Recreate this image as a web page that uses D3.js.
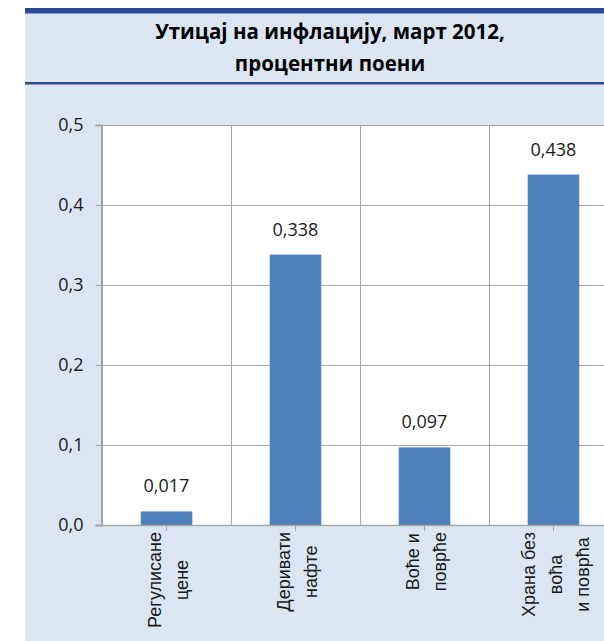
<!DOCTYPE html>
<html>
<head>
<meta charset="utf-8">
<script src="https://cdn.jsdelivr.net/npm/d3@7"></script>
<style>
  html, body { margin: 0; padding: 0; background: #fff; }
  svg { display: block; }
</style>
</head>
<body>
<div id="chart"></div>
<script>
// chart data
const titleLines = ['Утицај на инфлацију, март 2012,', 'процентни поени'];
const categories = ['Регулисане цене', 'Деривати нафте', 'Воће и поврће', 'Храна без воћа и поврћа'];
const categoryLines = [
  ['Регулисане', 'цене'],
  ['Деривати', 'нафте'],
  ['Воће и', 'поврће'],
  ['Храна без', 'воћа', 'и поврћа']
];
const values = [0.017, 0.338, 0.097, 0.438];
const yTicks = [0, 0.1, 0.2, 0.3, 0.4, 0.5];

const width = 604, height = 641;
const panelColor = '#dce6f2';
const navy = '#2c4a94';
const barColor = '#4f81bd';
const gridColor = '#a6a6a6';
const textColor = '#1a1a1a';

// comma as decimal mark
const locale = d3.formatLocale({ decimal: ',', thousands: '.', grouping: [3], currency: ['', ''] });
const fmtTick = locale.format('.1f');
const fmtValue = locale.format('.3f');

const svg = d3.select('#chart').append('svg')
  .attr('width', width)
  .attr('height', height);

// background panel
svg.append('rect')
  .attr('x', 25).attr('y', 8)
  .attr('width', width - 25).attr('height', height - 8)
  .attr('fill', panelColor);

svg.append('rect')
  .attr('x', 25).attr('y', 8)
  .attr('width', width - 25).attr('height', 5.5)
  .attr('fill', navy);

svg.append('rect')
  .attr('x', 25).attr('y', 82)
  .attr('width', width - 25).attr('height', 2.5)
  .attr('fill', navy);

// title
svg.append('g')
  .selectAll('text')
  .data(titleLines)
  .join('text')
  .attr('x', 330)
  .attr('y', (d, i) => 39 + i * 32)
  .attr('text-anchor', 'middle')
  .attr('font-family', 'Open Sans')
  .attr('font-weight', 'bold')
  .attr('font-size', 20.5)
  .attr('fill', '#000')
  .text(d => d);

// scales
const plot = { left: 102, right: 618, top: 125, bottom: 525 };

const xBand = d3.scaleBand()
  .domain(categories)
  .range([plot.left, plot.right]);

const xBar = d3.scaleBand()
  .domain(categories)
  .range([plot.left, plot.right])
  .paddingInner(0.6)
  .paddingOuter(0.3);

const y = d3.scaleLinear()
  .domain([0, 0.5])
  .range([plot.bottom, plot.top]);

// plot area
svg.append('rect')
  .attr('x', plot.left).attr('y', plot.top)
  .attr('width', plot.right - plot.left).attr('height', plot.bottom - plot.top)
  .attr('fill', '#fff');

// horizontal gridlines
svg.append('g')
  .selectAll('line')
  .data(yTicks.slice(1))
  .join('line')
  .attr('x1', plot.left).attr('x2', plot.right)
  .attr('y1', d => Math.round(y(d)) + 0.5)
  .attr('y2', d => Math.round(y(d)) + 0.5)
  .attr('stroke', gridColor)
  .attr('stroke-width', 1);

// vertical gridlines between categories
svg.append('g')
  .selectAll('line')
  .data(categories.slice(1))
  .join('line')
  .attr('x1', d => Math.round(xBand(d)) + 0.5)
  .attr('x2', d => Math.round(xBand(d)) + 0.5)
  .attr('y1', plot.top).attr('y2', plot.bottom)
  .attr('stroke', gridColor)
  .attr('stroke-width', 1);

// bars
svg.append('g')
  .selectAll('rect')
  .data(values)
  .join('rect')
  .attr('x', (d, i) => xBar(categories[i]))
  .attr('y', d => y(d))
  .attr('width', xBar.bandwidth())
  .attr('height', d => y(0) - y(d))
  .attr('fill', barColor);

// value labels
svg.append('g')
  .selectAll('text')
  .data(values)
  .join('text')
  .attr('x', (d, i) => xBar(categories[i]) + xBar.bandwidth() / 2)
  .attr('y', d => y(d) - 19)
  .attr('text-anchor', 'middle')
  .attr('font-family', 'Open Sans')
  .attr('font-size', 18)
  .attr('fill', textColor)
  .text(d => fmtValue(d));

// y axis
const yAxis = svg.append('g')
  .attr('transform', `translate(${plot.left - 0.5},0)`)
  .call(d3.axisLeft(y).tickValues(yTicks).tickFormat(fmtTick).tickSize(6).tickPadding(12));
yAxis.select('.domain').attr('stroke', gridColor).attr('stroke-width', 2);
yAxis.selectAll('.tick line').attr('stroke', gridColor);
yAxis.selectAll('.tick text')
  .attr('font-family', 'Open Sans')
  .attr('font-size', 18)
  .attr('fill', textColor);

// x axis line and ticks at bar centres
svg.append('line')
  .attr('x1', plot.left - 6).attr('x2', plot.right)
  .attr('y1', plot.bottom + 0.5).attr('y2', plot.bottom + 0.5)
  .attr('stroke', gridColor)
  .attr('stroke-width', 1.5);

svg.append('g')
  .selectAll('line')
  .data(categories)
  .join('line')
  .attr('x1', d => xBand(d) + xBand.bandwidth() / 2)
  .attr('x2', d => xBand(d) + xBand.bandwidth() / 2)
  .attr('y1', plot.bottom).attr('y2', plot.bottom + 6)
  .attr('stroke', gridColor);

// rotated category labels
const labels = svg.append('g')
  .selectAll('text')
  .data(categories)
  .join('text')
  .attr('font-family', 'Liberation Sans')
  .attr('font-size', 18)
  .attr('fill', textColor)
  .attr('text-anchor', 'middle');

labels.each(function(d, i) {
  const t = d3.select(this);
  const lines = categoryLines[i];
  lines.forEach((ln, j) => {
    t.append('tspan')
      .attr('x', 0)
      .attr('y', (j - (lines.length - 1) / 2) * 27)
      .attr('dy', '0.35em')
      .text(ln);
  });
  let maxLen = 0;
  t.selectAll('tspan').each(function() {
    maxLen = Math.max(maxLen, this.getComputedTextLength());
  });
  const cx = xBand(d) + xBand.bandwidth() / 2 + 2;
  const cy = plot.bottom + 7 + maxLen / 2;
  t.attr('transform', `translate(${cx},${cy}) rotate(-90)`);
});
</script>
</body>
</html>
